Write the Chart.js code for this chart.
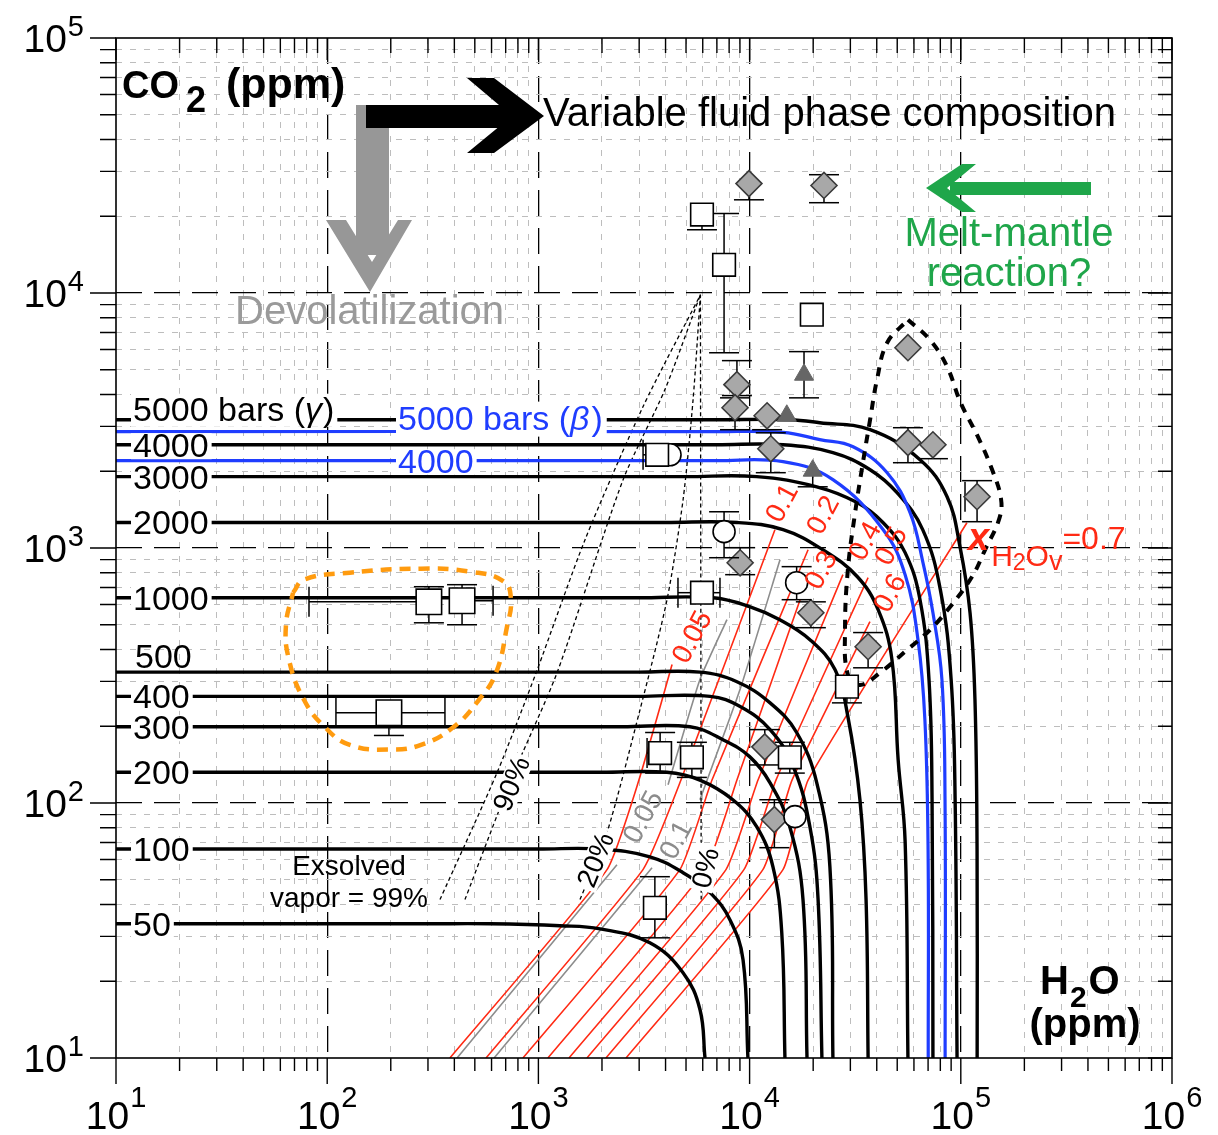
<!DOCTYPE html>
<html><head><meta charset="utf-8">
<script src="https://cdn.jsdelivr.net/npm/chart.js@4/dist/chart.umd.min.js"></script>
<style>html,body{margin:0;padding:0;background:#fff}canvas{display:block}</style>
</head><body>
<canvas id="c" width="1218" height="1135"></canvas>
<script>
// ---------- axes / ticks ----------
const X_DECADES = [10, 100, 1000, 10000, 100000, 1000000];
const X_EXPONENTS = ['1','2','3','4','5','6'];
const Y_DECADES = [10, 100, 1000, 10000, 100000];
const Y_EXPONENTS = ['1','2','3','4','5'];

// ---------- isobars: [H2O ppm, CO2 ppm] ----------
const ISOBAR_5000G = [[10,3185],[7000,3185],[15500,3185],[21500,3100],[37200,2910],[64100,2220],[86100,1589],[99100,1012],[110600,557],[116700,254],[119400,65.6],[119500,10]];
const ISOBAR_4000 = [[10,2541],[7000,2541],[14400,2541],[24800,2366],[37200,2028],[49900,1648],[66000,1180],[80000,687],[90000,305],[94000,103],[96000,10]];
const ISOBAR_3000 = [[10,1905],[5000,1905],[10800,1905],[20800,1738],[32300,1507],[42900,1256],[54500,959],[64100,627],[70700,305],[73100,103],[73800,10]];
const ISOBAR_2000 = [[10,1259],[4000,1259],[8710,1259],[14400,1180],[22200,984],[32300,773],[40600,573],[47200,365],[50500,148],[54500,70.7],[56200,10]];
const ISOBAR_1000 = [[10,638],[3000,638],[6710,638],[10000,589],[13900,523],[19300,437],[25400,333],[29200,218],[33300,103],[35600,41.8],[36400,10]];
const ISOBAR_500 = [[10,326],[3000,326],[5820,326],[8710,299],[12500,247],[16700,189],[20800,120],[24000,56.2],[24800,10]];
const ISOBAR_400 = [[10,262],[3000,262],[6500,262],[9020,239],[12500,194],[16100,139],[19300,80.7],[21100,41.8],[22000,10]];
const ISOBAR_300 = [[10,199],[2500,199],[5220,199],[7480,177],[10000,152],[12500,120],[15500,80.7],[17900,41.8],[18700,10]];
const ISOBAR_200 = [[10,132],[2000,132],[4060,132],[5820,123],[8330,103],[10800,80.7],[12900,56.2],[14200,31],[14700,10]];
const ISOBAR_100 = [[10,66],[1000,66],[1960,66],[3370,61.5],[4840,53.3],[6500,44.5],[8080,34.8],[9310,24.3],[9820,10]];
const ISOBAR_50 = [[10,33.6],[300,33.6],[590,33.6],[1265,33],[1960,32.1],[3370,28.3],[4840,21.6],[5820,15.5],[6150,10]];
const BLUE_5000B = [[10,2860],[7000,2860],[14400,2840],[21500,2660],[30900,2495],[44800,1974],[57500,1377],[66200,877],[73800,557],[81400,305],[84200,103],[84300,10]];
const BLUE_4000B = [[10,2200],[7000,2200],[14400,2180],[24800,1853],[42900,1180],[54500,786],[62700,437],[67600,212],[70000,65.6],[70100,10]];

// ---------- vapor composition isopleths X_H2Ov ----------
const XH2O_005 = [[381,10],[2113,54.8],[2992,123],[4296,349]];
const XH2O_01 = [[565,10],[3127,54.8],[4732,123],[13180,1180]];
const XH2O_02 = [[845,10],[4677,54.8],[6637,123],[18920,984]];
const XH2O_03 = [[1109,10],[6150,54.8],[8710,123],[17340,627]];
const XH2O_04 = [[1396,10],[7730,54.8],[10960,123],[27660,786]];
const XH2O_05 = [[1698,10],[9400,54.8],[13330,123],[36400,765]];
const XH2O_06 = [[2089,10],[11560,54.8],[15880,123],[37150,514]];
const XH2O_07 = [[2600,10],[14390,54.8],[18920,123],[106900,1256]];
const GRAY_005_LOW = [[412,10],[2355,57.3]];
const GRAY_005_UP = [[4111,118],[5820,305],[7815,524]];
const GRAY_01_LOW = [[617,10],[3451,55.7]];
const GRAY_01_UP = [[5820,103],[9016,279],[13930,899]];

// ---------- exsolved vapor lines ----------
const VAPOR_99 = [[342,41.8],[637,131.5],[975,324],[1663,1078],[3127,3580],[5850,9840]];
const VAPOR_90 = [[449,41.8],[750,126],[1225,324],[2518,1853],[3972,4180],[5850,9840]];
const VAPOR_20 = [[1574,41.8],[2113,76.6],[3027,232],[4064,627],[4842,1546],[5400,3820],[5850,9840]];
const VAPOR_0 = [[5900,41.8],[5850,9840]];

// ---------- outlines ----------
const ORANGE_LOOP = [[68.9,668],[77.6,752],[128,800],[278,830],[480,807],[687,738],[741,627],[710,491],[630,324],[523,254],[398,199],[278,169],[196,162],[128,169],[97.7,198],[77.6,254],[65.9,365],[63.8,500],[68.9,668]];
const BLACK_LOOP = [[56200,7850],[71400,6560],[86100,5140],[100000,3700],[120000,2750],[140000,2050],[155000,1560],[152000,1300],[130300,984],[113000,771],[88900,587],[71400,477],[55600,398],[41400,324],[33300,290],[29200,318],[28300,477],[29200,824],[31500,1352],[34400,2163],[37200,3185],[40100,4570],[44800,6380],[56200,7850]];

// ---------- samples ----------
const SQUARE_H2O = [5950, 7570, 19700, 3650, 5950, 28900, 15500, 3770, 5330, 3560, 303, 435, 196];
const SQUARE_CO2 = [20300, 12900, 8220, 2320, 668, 286, 151, 157, 151, 38.8, 615, 621, 226];
const SQUARE_SIZE = [16,16,16,16,16,16,16,16,16,16,18,18,18];
// [CO2 low, CO2 high, H2O low, H2O high]
const SQUARE_ERR = [[17700,null,null,null],[5830,20500,null,null],null,[null,null,3130,null],[null,null,4580,7240],[247,null,null,null],[131,173,null,null],[131,189,3270,null],[126,173,null,null],[29.6,51.4,null,null],[509,705,82,null],[500,718,null,610],[184,null,110,361]];

const DIAMOND_H2O = [9930, 22500, 8710, 8530, 12100, 12600, 9020, 19500, 36400, 11800, 119400, 56200, 73800, 56200, 13100];
const DIAMOND_CO2 = [26850, 26400, 4370, 3550, 3300, 2450, 875, 557, 410, 166, 1589, 2590, 2540, 6100, 86.1];
const DIAMOND_ERR = [[23200,null],[22600,29100],[3960,5430],[2910,3880],[2910,null],[1974,2830],[786,1003],[487,615],[339,466],[141,194],[1268,1837,104700,null],[2160,2963],[2240,null],null,[66.8,103]];

const CIRCLE_H2O = [7570, 16700, 16400, 4200];
const CIRCLE_CO2 = [1159, 731, 88.4, 2320];
const CIRCLE_ERR = [[916,1387],[627,845],null,null];

const TRIANGLE_H2O = [18100, 15000, 19900];
const TRIANGLE_CO2 = [4780, 3300, 2010];
const TRIANGLE_ERR = [[3880,5890],null,[1738,null]];

// ---------- helpers ----------
const FONT = '"Liberation Sans", Arial, Helvetica, sans-serif';
const toPts = arr => arr.map(p => ({x: p[0], y: p[1]}));
const zip = (xs, ys) => xs.map((x, i) => ({x, y: ys[i]}));
function minorOf(decs){ const out=[]; for(let i=0;i<decs.length-1;i++) for(let m=2;m<=9;m++) out.push(decs[i]*m); return out; }
const X_MINOR = minorOf(X_DECADES);
const Y_MINOR = minorOf(Y_DECADES);

function lineDs(arr, color, width, opts) {
  return Object.assign({type:'scatter', data: toPts(arr), showLine:true, pointRadius:0, borderColor:color, backgroundColor:color, borderWidth:width, tension:0.4, fill:false, order:10}, opts||{});
}
const BLACK='#000', BLUE='#1f3dff', RED='#ff2a14', GRAYL='#8c8c8c';

const datasets = [
  // markers (drawn on top)
  {type:'scatter', data: zip(SQUARE_H2O, SQUARE_CO2), errBars: SQUARE_ERR, pointStyle:'rect', pointRadius: SQUARE_SIZE, backgroundColor:'#fff', borderColor:'#000', borderWidth:1.6, order:1},
  {type:'scatter', data: zip(CIRCLE_H2O, CIRCLE_CO2), errBars: CIRCLE_ERR, pointStyle:'circle', pointRadius: 11, backgroundColor:'#fff', borderColor:'#000', borderWidth:1.6, order:2},
  {type:'scatter', data: zip(DIAMOND_H2O, DIAMOND_CO2), errBars: DIAMOND_ERR, pointStyle:'rectRot', pointRadius: 13, backgroundColor:'#a8a8a8', borderColor:'#3a3a3a', borderWidth:1.6, order:3},
  {type:'scatter', data: zip(TRIANGLE_H2O, TRIANGLE_CO2), errBars: TRIANGLE_ERR, pointStyle:'triangle', pointRadius: 11, backgroundColor:'#666', borderColor:'#666', borderWidth:1, order:4},
  // outlines
  lineDs(ORANGE_LOOP, '#ff9b0f', 4.5, {borderDash:[11,8], tension:0.45, order:5}),
  lineDs(BLACK_LOOP, BLACK, 4, {borderDash:[9,8], tension:0.4, order:5}),
  // blue isobars
  lineDs(BLUE_5000B, BLUE, 3.2, {order:6}),
  lineDs(BLUE_4000B, BLUE, 3.2, {order:6}),
  // black isobars
  ...[ISOBAR_5000G, ISOBAR_4000, ISOBAR_3000, ISOBAR_2000, ISOBAR_1000, ISOBAR_500, ISOBAR_400, ISOBAR_300, ISOBAR_200, ISOBAR_100, ISOBAR_50].map(a => lineDs(a, BLACK, 3.4, {order:7})),
  // exsolved vapor
  ...[VAPOR_99, VAPOR_90, VAPOR_20, VAPOR_0].map(a => lineDs(a, BLACK, 1.3, {borderDash:[4,3], tension:0.25, order:8})),
  // gray isopleths
  ...[GRAY_005_LOW, GRAY_005_UP, GRAY_01_LOW, GRAY_01_UP].map(a => lineDs(a, GRAYL, 1.6, {tension:0.15, order:9})),
  // red isopleths
  ...[XH2O_005, XH2O_01, XH2O_02, XH2O_03, XH2O_04, XH2O_05, XH2O_06, XH2O_07].map(a => lineDs(a, RED, 1.6, {tension:0.15, order:9})),
];

// ---------- drawing helpers ----------
function drawErr(chart, ds) {
  const {ctx} = chart; const xs = chart.scales.x, ys = chart.scales.y;
  ctx.save(); ctx.strokeStyle = '#000'; ctx.lineWidth = 1.5;
  ds.errBars.forEach((e, i) => {
    if (!e) return;
    const p = ds.data[i];
    const px = xs.getPixelForValue(p.x), py = ys.getPixelForValue(p.y);
    const cap = 15;
    const seg = (a,b,c,d) => { ctx.beginPath(); ctx.moveTo(a,b); ctx.lineTo(c,d); ctx.stroke(); };
    if (e[0] != null) { const q = ys.getPixelForValue(e[0]); seg(px,py,px,q); seg(px-cap,q,px+cap,q); }
    if (e[1] != null) { const q = ys.getPixelForValue(e[1]); seg(px,py,px,q); seg(px-cap,q,px+cap,q); }
    if (e[2] != null) { const q = xs.getPixelForValue(e[2]); seg(px,py,q,py); seg(q,py-cap,q,py+cap); }
    if (e[3] != null) { const q = xs.getPixelForValue(e[3]); seg(px,py,q,py); seg(q,py-cap,q,py+cap); }
  });
  ctx.restore();
}

function txt(ctx, s, x, y, font, color, align) {
  ctx.font = font; ctx.fillStyle = color; ctx.textAlign = align || 'left'; ctx.textBaseline = 'alphabetic';
  ctx.fillText(s, x, y); return ctx.measureText(s).width;
}
function bgTxt(ctx, s, x, y, font, color, top, bottom) {
  ctx.font = font; const w = ctx.measureText(s).width;
  ctx.fillStyle = '#fff'; ctx.fillRect(x - 2, y - top, w + 5, top + bottom);
  txt(ctx, s, x, y, font, color);
  return w;
}
function rotTxt(ctx, s, cx, cy, deg, font, color, bg) {
  ctx.save(); ctx.translate(cx, cy); ctx.rotate(deg * Math.PI / 180);
  ctx.font = font; ctx.textAlign = 'center'; ctx.textBaseline = 'middle';
  if (bg) { const w = ctx.measureText(s).width; ctx.fillStyle = '#fff'; ctx.fillRect(-w/2 - 3, -12, w + 6, 24); }
  ctx.fillStyle = color; ctx.fillText(s, 0, 1); ctx.restore();
}
function poly(ctx, pts, color) {
  ctx.beginPath(); ctx.moveTo(pts[0][0], pts[0][1]);
  for (let i = 1; i < pts.length; i++) ctx.lineTo(pts[i][0], pts[i][1]);
  ctx.closePath(); ctx.fillStyle = color; ctx.fill();
}

function drawAnnotations(chart) {
  const {ctx} = chart; const ys = chart.scales.y;
  ctx.save();
  // arrows
  ctx.fillStyle = '#979797'; ctx.fillRect(356, 105, 33, 150);
  poly(ctx, [[326,220],[346,220],[372,262],[398,220],[412,220],[370,292]], '#979797');
  ctx.fillStyle = '#000'; ctx.fillRect(366, 105, 146, 23);
  poly(ctx, [[467,78],[494,78],[544,116],[494,153],[467,153],[512,116]], '#000');
  ctx.fillStyle = '#1fa64a'; ctx.fillRect(950, 182, 141, 13);
  poly(ctx, [[926,188],[962,164],[976,164],[947,188],[976,212],[962,212]], '#1fa64a');

  // titles
  txt(ctx, 'CO', 122, 98, 'bold 38px ' + FONT, '#000');
  txt(ctx, '2', 186, 112, 'bold 36px ' + FONT, '#000');
  txt(ctx, '(ppm)', 226, 98, 'bold 43px ' + FONT, '#000');
  txt(ctx, 'Variable fluid phase composition', 543, 126, '40px ' + FONT, '#000');
  txt(ctx, 'Devolatilization', 235, 324, '40px ' + FONT, '#9a9a9a');
  txt(ctx, 'Melt-mantle', 1009, 246, '40px ' + FONT, '#1fa64a', 'center');
  txt(ctx, 'reaction?', 1009, 286, '40px ' + FONT, '#1fa64a', 'center');
  // H2O (ppm)
  const B40 = 'bold 40px ' + FONT;
  let w = txt(ctx, 'H', 1040, 994, B40, '#000');
  let w2 = txt(ctx, '2', 1040 + w + 1, 1007, 'bold 30px ' + FONT, '#000');
  txt(ctx, 'O', 1040 + w + w2 + 3, 994, B40, '#000');
  txt(ctx, '(ppm)', 1085, 1037, B40, '#000', 'center');

  // isobar labels
  const F34 = '34px ' + FONT;
  const yl = v => ys.getPixelForValue(v);
  let by = yl(ISOBAR_5000G[0][1]) + 1;
  ctx.font = F34;
  const wA = ctx.measureText('5000 bars (').width;
  ctx.font = 'italic 34px ' + FONT; const wB = ctx.measureText('γ').width;
  ctx.font = F34; const wC = ctx.measureText(')').width;
  ctx.fillStyle = '#fff'; ctx.fillRect(131, by - 27, wA + wB + wC + 6, 33);
  txt(ctx, '5000 bars (', 133, by, F34, '#000');
  txt(ctx, 'γ', 133 + wA, by, 'italic 34px ' + FONT, '#000');
  txt(ctx, ')', 133 + wA + wB + 1, by, F34, '#000');

  by = yl(BLUE_5000B[0][1]) - 2;
  ctx.font = F34;
  const bA = ctx.measureText('5000 bars (').width;
  ctx.font = 'italic 34px ' + FONT; const bB = ctx.measureText('β').width;
  ctx.font = F34; const bC = ctx.measureText(')').width;
  ctx.fillStyle = '#fff'; ctx.fillRect(396, by - 28, bA + bB + bC + 8, 35);
  txt(ctx, '5000 bars (', 398, by, F34, BLUE);
  txt(ctx, 'β', 398 + bA, by, 'italic 34px ' + FONT, BLUE);
  txt(ctx, ')', 398 + bA + bB + 2, by, F34, BLUE);
  by = yl(BLUE_4000B[0][1]) + 12;
  bgTxt(ctx, '4000', 398, by, F34, BLUE, 23.5, 2);

  const blackLabels = [['4000', ISOBAR_4000], ['3000', ISOBAR_3000], ['2000', ISOBAR_2000], ['1000', ISOBAR_1000], ['400', ISOBAR_400], ['300', ISOBAR_300], ['200', ISOBAR_200], ['100', ISOBAR_100], ['50', ISOBAR_50]];
  blackLabels.forEach(([s, arr]) => { bgTxt(ctx, s, 133, yl(arr[0][1]) + 12, F34, '#000', 23.5, 2.5); });
  txt(ctx, '500', 135, yl(ISOBAR_500[0][1]) - 4, F34, '#000');

  // exsolved vapor labels
  const F28 = '28px ' + FONT;
  txt(ctx, 'Exsolved', 349, 875, F28, '#000', 'center');
  txt(ctx, 'vapor = 99%', 349, 907, F28, '#000', 'center');
  rotTxt(ctx, '90%', 512, 784, -68, F28, '#000', true);
  rotTxt(ctx, '20%', 596, 860, -68, F28, '#000', true);
  rotTxt(ctx, '0%', 706, 868, -76, F28, '#000', true);
  rotTxt(ctx, '0.05', 643, 817, -62, F28, '#8c8c8c', false);
  rotTxt(ctx, '0.1', 676, 840, -62, F28, '#8c8c8c', false);
  // red labels
  [['0.05',692,637],['0.1',782,503],['0.2',823,515],['0.3',821,570],['0.4',865,541],['0.5',891,546],['0.6',890,593]].forEach(([s,x,y]) => rotTxt(ctx, s, x, y, -62, F28, RED, false));
  // x_H2Ov = 0.7
  let xx = 968;
  xx += txt(ctx, 'x', xx, 550, 'italic bold 38px ' + FONT, RED) + 2;
  xx += txt(ctx, 'H', xx, 566, '30px ' + FONT, RED);
  xx += txt(ctx, '2', xx, 570, '23px ' + FONT, RED);
  xx += txt(ctx, 'O', xx, 566, '30px ' + FONT, RED);
  xx += txt(ctx, 'v', xx, 570, '27px ' + FONT, RED);
  txt(ctx, '=0.7', xx, 549, '32px ' + FONT, RED);
  ctx.restore();
}

function drawAxes(chart) {
  const {ctx, chartArea: a} = chart; const xs = chart.scales.x, ys = chart.scales.y;
  ctx.save();
  ctx.strokeStyle = '#000'; ctx.lineWidth = 1.6;
  ctx.strokeRect(a.left, a.top, a.right - a.left, a.bottom - a.top);
  ctx.lineWidth = 1.4; ctx.beginPath();
  X_DECADES.forEach(v => { const p = xs.getPixelForValue(v); ctx.moveTo(p, a.bottom); ctx.lineTo(p, a.bottom + 26); ctx.moveTo(p, a.top); ctx.lineTo(p, a.top + 22); });
  X_MINOR.forEach(v => { const p = xs.getPixelForValue(v); ctx.moveTo(p, a.bottom); ctx.lineTo(p, a.bottom + 13); ctx.moveTo(p, a.top); ctx.lineTo(p, a.top + 15); });
  Y_DECADES.forEach(v => { const p = ys.getPixelForValue(v); ctx.moveTo(a.left - 26, p); ctx.lineTo(a.left, p); ctx.moveTo(a.right, p); ctx.lineTo(a.right - 24, p); });
  Y_MINOR.forEach(v => { const p = ys.getPixelForValue(v); ctx.moveTo(a.left - 16, p); ctx.lineTo(a.left, p); ctx.moveTo(a.right, p); ctx.lineTo(a.right - 14, p); });
  ctx.stroke();
  const BIG = '39px ' + FONT, SUP = '29px ' + FONT;
  X_DECADES.forEach((v, i) => {
    const p = xs.getPixelForValue(v);
    ctx.font = BIG; const w1 = ctx.measureText('10').width;
    ctx.font = SUP; const w2 = ctx.measureText(X_EXPONENTS[i]).width;
    const s = p - (w1 + w2 + 1) / 2;
    txt(ctx, '10', s, a.bottom + 71, BIG, '#000');
    txt(ctx, X_EXPONENTS[i], s + w1 + 1, a.bottom + 49, SUP, '#000');
  });
  Y_DECADES.forEach((v, i) => {
    const p = ys.getPixelForValue(v);
    ctx.font = BIG; const w1 = ctx.measureText('10').width;
    ctx.font = SUP; const w2 = ctx.measureText(Y_EXPONENTS[i]).width;
    const s = 84 - (w1 + w2 + 1);
    txt(ctx, '10', s, p + 14, BIG, '#000');
    txt(ctx, Y_EXPONENTS[i], s + w1 + 1, p - 2, SUP, '#000');
  });
  ctx.restore();
}

const decor = {
  id: 'decor',
  beforeDatasetDraw(chart, args) { const ds = chart.data.datasets[args.index]; if (ds.errBars) drawErr(chart, ds); },
  afterDatasetsDraw(chart) { drawAnnotations(chart); },
  afterDraw(chart) { drawAxes(chart); }
};

const logAxis = (pos, ticks, color, width, dash) => ({
  type: 'logarithmic', position: pos, display: true,
  ticks: {display: false}, title: {display: false},
  grid: {drawTicks: false, color: color, lineWidth: width},
  border: {display: false, dash: dash},
  afterBuildTicks: s => { s.ticks = ticks.map(v => ({value: v})); }
});
const xA = logAxis('bottom', X_MINOR, '#bdbdbd', 1, [6, 8]); xA.min = 10; xA.max = 1e6;
const x2A = logAxis('bottom', X_DECADES.slice(1, -1), '#000', 1.3, [26, 12]); x2A.min = 10; x2A.max = 1e6;
const yA = logAxis('left', Y_MINOR, '#bdbdbd', 1, [6, 8]); yA.min = 10; yA.max = 1e5;
const y2A = logAxis('left', Y_DECADES.slice(1, -1), '#000', 1.3, [26, 12]); y2A.min = 10; y2A.max = 1e5;

new Chart(document.getElementById('c'), {
  type: 'scatter',
  data: {datasets},
  options: {
    responsive: false, maintainAspectRatio: false, animation: false, events: [],
    layout: {padding: {left: 116, right: 46, top: 38, bottom: 77}},
    plugins: {legend: {display: false}, tooltip: {enabled: false}},
    scales: {x: xA, x2: x2A, y: yA, y2: y2A}
  },
  plugins: [decor]
});
</script>
</body></html>
